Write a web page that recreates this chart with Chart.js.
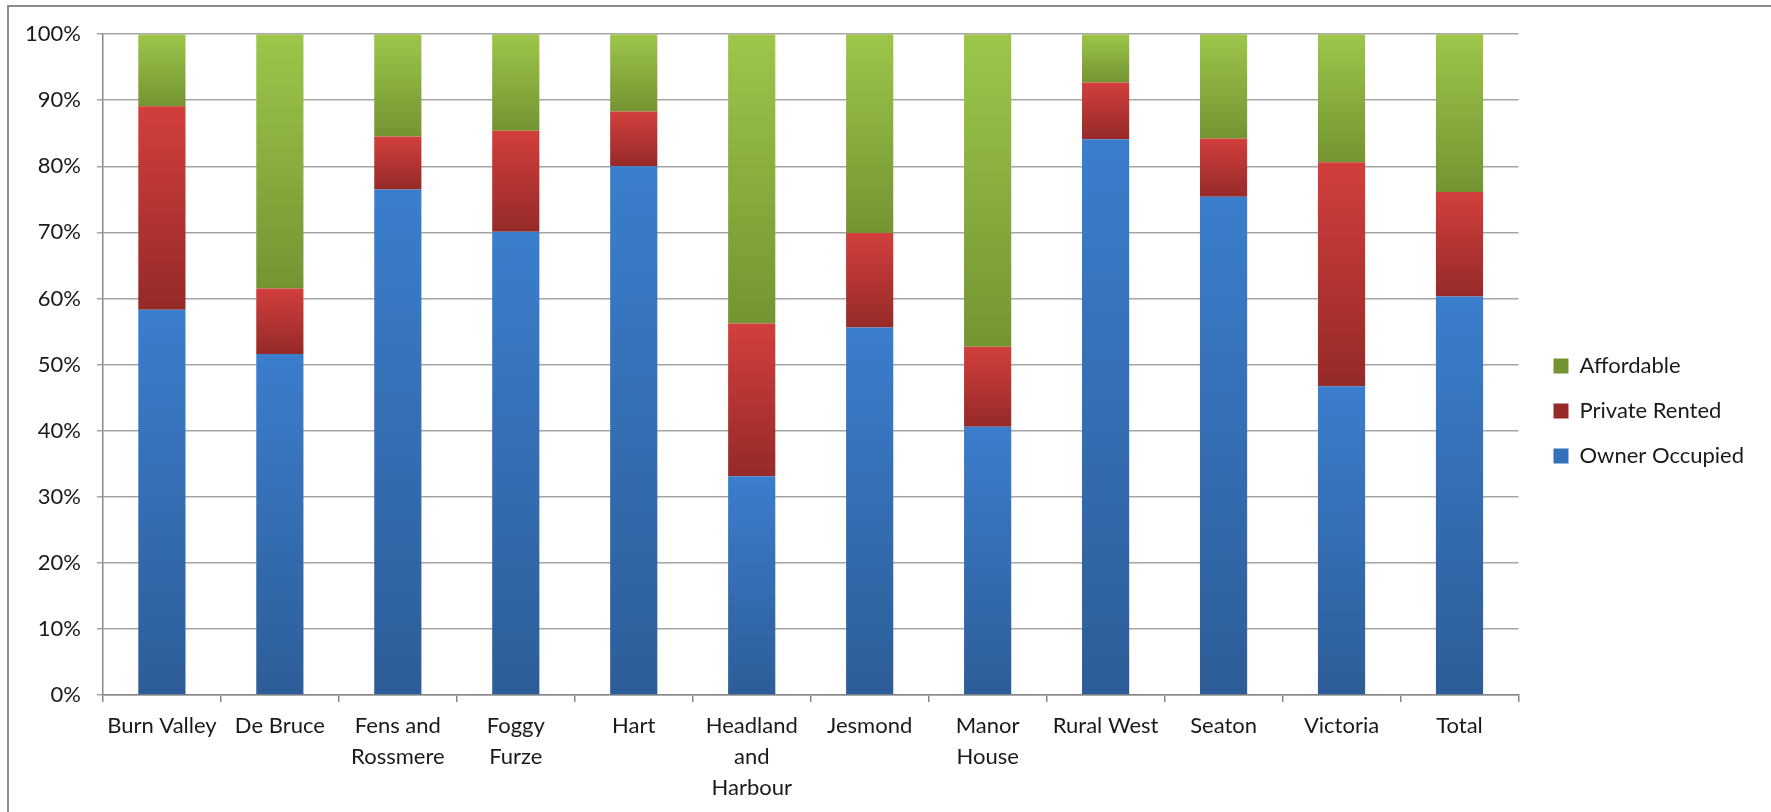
<!DOCTYPE html>
<html>
<head>
<meta charset="utf-8">
<title>Tenure by ward</title>
<script src="https://cdn.jsdelivr.net/npm/chart.js@4.4.1/dist/chart.umd.min.js"></script>
<style>
    html, body { margin: 0; padding: 0; background: #fff; overflow: hidden; }
    #frame {
        position: absolute; left: 7px; top: 5px;
        width: 1900px; height: 1000px;
        border: 2px solid #8c8c8c;
    }
    #chart { position: absolute; left: 0; top: 0; }
</style>
</head>
<body>
<div id="frame"></div>
<canvas id="chart" width="1771" height="812"></canvas>
<script>
// Datos
const barrios = [
    'Burn Valley', 'De Bruce', ['Fens and', 'Rossmere'], ['Foggy', 'Furze'], 'Hart',
    ['Headland', 'and', 'Harbour'], 'Jesmond', ['Manor', 'House'], 'Rural West',
    'Seaton', 'Victoria', 'Total'
];
const ownerOccupied = [58.3, 51.6, 76.5, 70.1, 80.0, 33.1, 55.6, 40.6, 84.1, 75.4, 46.7, 60.3];
const privateRented = [30.8,  9.9,  8.0, 15.3,  8.3, 23.1, 14.3, 12.1,  8.6,  8.8, 33.9, 15.8];
const affordable    = [10.9, 38.5, 15.5, 14.6, 11.7, 43.8, 30.1, 47.3,  7.3, 15.8, 19.4, 23.9];
const yTicks = [0, 10, 20, 30, 40, 50, 60, 70, 80, 90, 100];

const FONT = 'Lato';

// degradado vertical por segmento (claro arriba, oscuro abajo)
function degradado(claro, oscuro, medio) {
    return (ctx) => {
        const chart = ctx.chart;
        const y = chart.scales.y;
        if (ctx.type !== 'data' || !chart.chartArea || !y) return medio;
        let base = 0;
        for (let d = 0; d < ctx.datasetIndex; d++) {
            base += chart.data.datasets[d].data[ctx.dataIndex];
        }
        const y0 = y.getPixelForValue(base + ctx.raw);
        const y1 = y.getPixelForValue(base);
        if (!isFinite(y0) || !isFinite(y1) || y0 === y1) return medio;
        const g = chart.ctx.createLinearGradient(0, y0, 0, y1);
        g.addColorStop(0, claro);
        g.addColorStop(1, oscuro);
        return g;
    };
}

new Chart(document.getElementById('chart'), {
    type: 'bar',
    data: {
        labels: barrios,
        datasets: [
            {
                label: 'Owner Occupied',
                data: ownerOccupied,
                xAxisID: 'x',
                yAxisID: 'y',
                backgroundColor: degradado('#3b7ecd', '#2d5d98', '#3a70b8'),
                barPercentage: 0.5,
                categoryPercentage: 0.8
            },
            {
                label: 'Private Rented',
                data: privateRented,
                xAxisID: 'x',
                yAxisID: 'y',
                backgroundColor: degradado('#d23f3c', '#952a28', '#c53c38'),
                barPercentage: 0.5,
                categoryPercentage: 0.8
            },
            {
                label: 'Affordable',
                data: affordable,
                xAxisID: 'x',
                yAxisID: 'y',
                backgroundColor: degradado('#9dc64a', '#749432', '#8cb443'),
                barPercentage: 0.5,
                categoryPercentage: 0.8
            }
        ]
    },
    options: {
        responsive: false,
        animation: false,
        layout: {
            padding: { top: 11, left: 9, right: 17, bottom: 1 }
        },
        plugins: {
            legend: {
                position: 'right',
                reverse: true,
                labels: {
                    boxWidth: 15,
                    boxHeight: 15,
                    padding: 23,
                    color: '#1a1a1a',
                    font: { family: FONT, size: 22 }
                }
            },
            tooltip: { enabled: false }
        },
        scales: {
            x: {
                stacked: true,
                grid: {
                    offset: true,
                    drawOnChartArea: false,
                    tickLength: 7,
                    color: '#888888',
                    lineWidth: 1.5
                },
                border: { color: '#888888', width: 1.5 },
                ticks: {
                    color: '#1a1a1a',
                    padding: 8,
                    maxRotation: 0,
                    autoSkip: false,
                    font: { family: FONT, size: 22, lineHeight: 1.41 }
                }
            },
            y: {
                stacked: true,
                min: 0,
                max: 100,
                afterBuildTicks: (axis) => { axis.ticks = yTicks.map(v => ({ value: v })); },
                grid: {
                    color: '#a5a5a5',
                    lineWidth: 1.5,
                    tickLength: 6
                },
                border: { color: '#888888', width: 1.5 },
                ticks: {
                    color: '#1a1a1a',
                    padding: 16,
                    callback: (v) => v + '%',
                    font: { family: FONT, size: 22, lineHeight: 1.65 }
                }
            },
            // hueco entre el área del gráfico y la leyenda
            hueco: {
                position: 'right',
                display: true,
                grid: { display: false, drawTicks: false },
                border: { display: false },
                ticks: { display: false },
                afterFit: (axis) => { axis.width = 12; }
            }
        }
    }
});
</script>
</body>
</html>
